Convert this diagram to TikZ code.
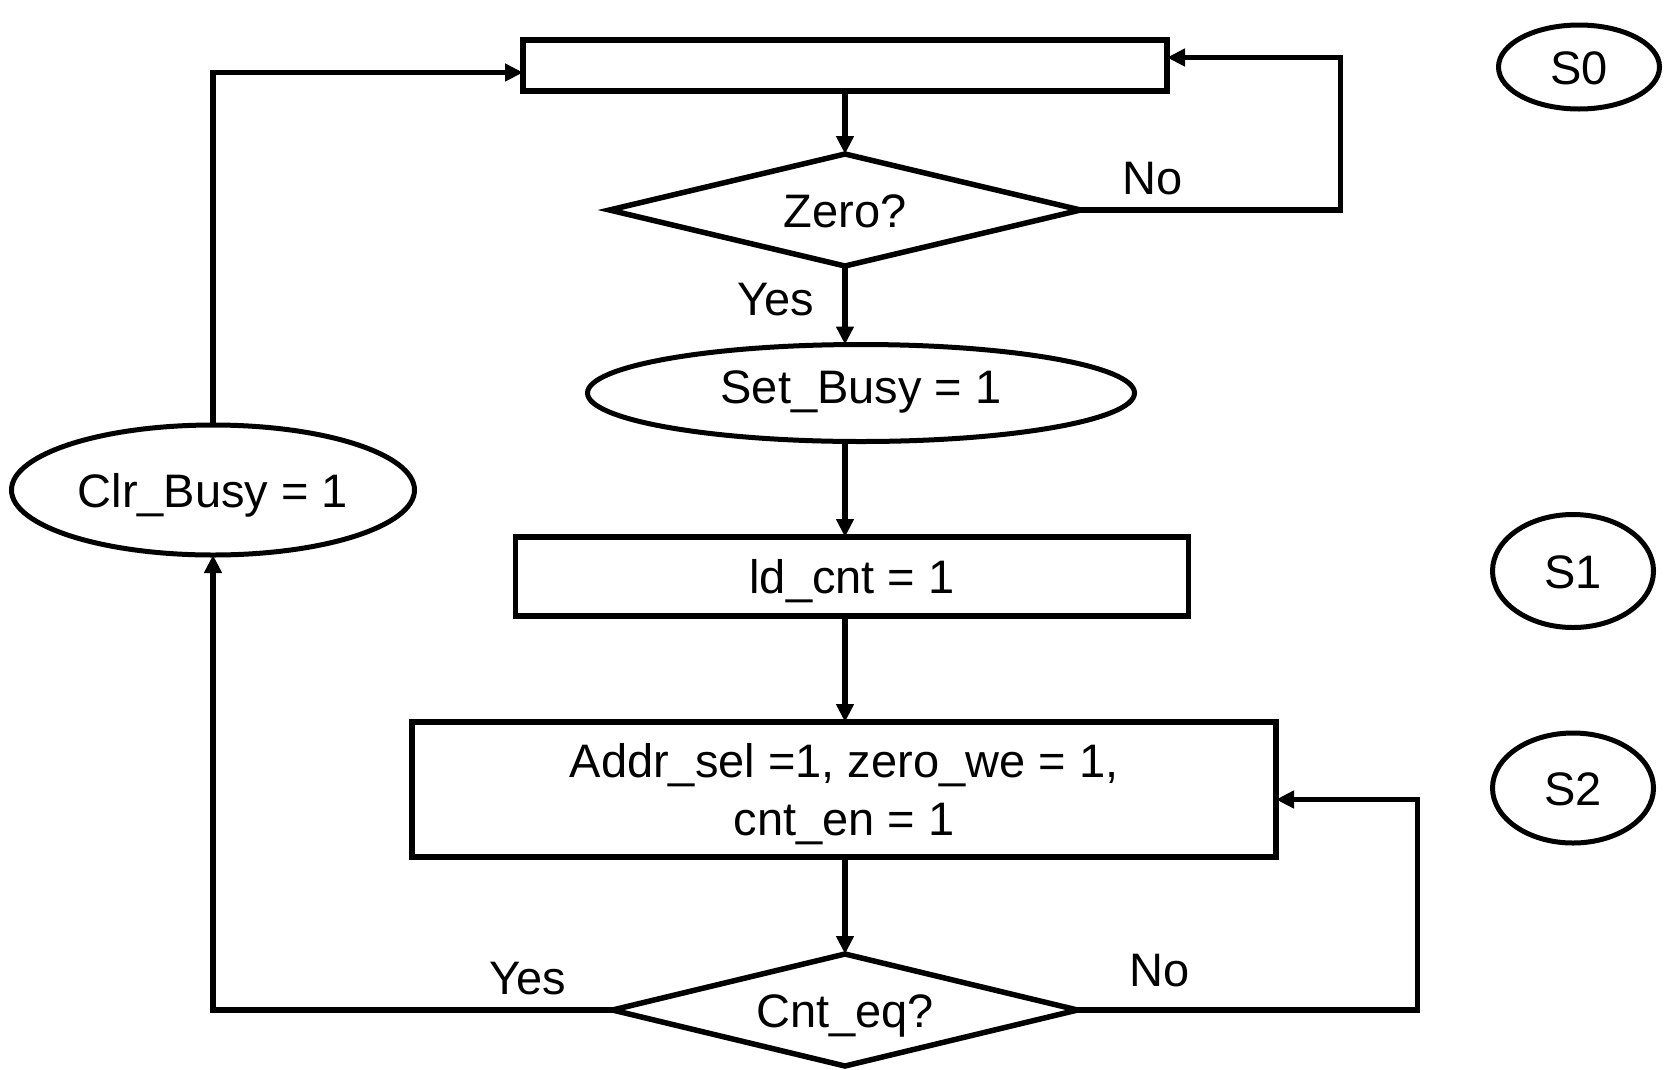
\documentclass[tikz,border=0pt]{standalone}
\usepackage{fontspec}
\setmainfont{Liberation Sans}
\usetikzlibrary{shapes.geometric,arrows.meta}
\begin{document}
\begin{tikzpicture}[x=1pt,y=-1pt,
  every node/.style={font=\fontsize{47}{58}\selectfont, text height=34pt, text depth=0pt,
                     inner sep=0pt, outer sep=0pt},
  box/.style={draw, line width=5.5pt, rectangle},
  oval/.style={draw, line width=5pt, ellipse},
  decide/.style={draw, line width=5.5pt, diamond, aspect=4.2},
  flow/.style={line width=5.5pt, -{Triangle[length=18pt,width=17pt]}}
]
% canvas
\fill[white] (0,0) rectangle (1665,1069);
\path[use as bounding box] (0,0) rectangle (1665,1069);

% flowchart blocks
\node[box, minimum width=644pt, minimum height=51pt] (top) at (845,65.5) {};
\node[decide, minimum width=471pt, minimum height=112pt] (zero) at (845,210) {Zero?};
\node[oval, minimum width=547pt, minimum height=97pt, text depth=14pt] (setbusy) at (861,393) {Set\_Busy = 1};
\node[box, minimum width=673pt, minimum height=79pt] (ld) at (852,576.5) {ld\_cnt = 1};
\node[box, minimum width=864pt, minimum height=135pt, align=center, text height=92pt]
  (addr) at (844,789.5) {Addr\_sel =1, zero\_we = 1,\\ cnt\_en = 1};
\node[decide, minimum width=465pt, minimum height=112pt] (cnteq) at (845,1010) {Cnt\_eq?};
\node[oval, minimum width=403pt, minimum height=130pt] (clr) at (213,490) {Clr\_Busy = 1};

% state tags
\node[oval, minimum width=161pt, minimum height=84pt] (s0) at (1579,67) {S0};
\node[oval, minimum width=161pt, minimum height=113pt] (s1) at (1573,571) {S1};
\node[oval, minimum width=161pt, minimum height=110pt] (s2) at (1573,788) {S2};

% branch labels
\node (no1) at (1153,177) {No};
\node (yes1) at (776,298) {Yes};
\node (yes2) at (528,977) {Yes};
\node (no2) at (1160,969) {No};

% connectors
\draw[flow] (top.south) -- (zero.north);
\draw[flow] (zero.south) -- (zero.south |- setbusy.north);
\draw[flow] (zero.south |- setbusy.south) -- (zero.south |- ld.north);
\draw[flow] (zero.south |- ld.south) -- (zero.south |- addr.north);
\draw[flow] (zero.south |- addr.south) -- (cnteq.north);
\draw[flow] (zero.east) -- ++(260,0) |- ([yshift=8pt]top.east);
\draw[flow] (cnteq.east) -- ++(340,0) |- ([yshift=-10pt]addr.east);
\draw[flow] (cnteq.west) -| (clr.south);
\draw[flow] (clr.north) |- ([yshift=-7pt]top.west);
\end{tikzpicture}
\end{document}
